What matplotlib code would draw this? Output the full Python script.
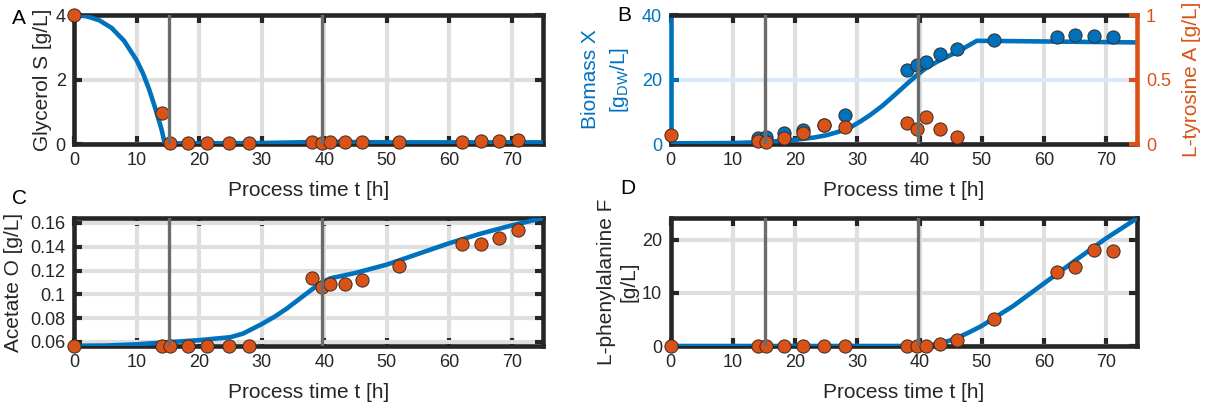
import matplotlib.pyplot as plt

plt.rcParams['font.family'] = ['Liberation Sans', 'DejaVu Sans']
plt.rcParams['mathtext.fontset'] = 'custom'
plt.rcParams['mathtext.rm'] = 'Liberation Sans'
plt.rcParams['mathtext.it'] = 'Liberation Sans:italic'

BLUE = '#0072BD'
ORANGE = '#D95319'
DARK = '#262626'
GRID = '#DFDFDF'
PHASE = '#6B6B6B'
NAN = float('nan')

# measurement times [h]
t_meas = [0, 14.0, 15.3, 18.3, 21.3, 24.7, 28.0, 38.0, 39.6, 41.0, 43.3,
          46.0, 52.0, 62.0, 65.0, 68.0, 71.0]
glycerol_meas = [4.0, 0.95, 0.02, 0.03, 0.03, 0.04, 0.04, 0.05, 0.04, 0.05,
                 0.05, 0.05, 0.05, 0.07, 0.08, 0.1, 0.12]
biomass_meas = [NAN, 1.8, 2.1, 3.5, 4.3, 5.8, 9.0, 22.9, 24.5, 25.5, 27.9,
                29.4, 32.2, 33.3, 33.8, 33.5, 33.1]
tyrosine_meas = [0.07, 0.026, 0.018, 0.049, 0.088, 0.147, 0.134, 0.165,
                 0.114, 0.207, 0.116, 0.057]
acetate_meas = [0.0566, 0.0566, 0.0566, 0.0566, 0.0566, 0.0566, 0.0566,
                0.1137, 0.1066, 0.1085, 0.1085, 0.1117, 0.1236, 0.142,
                0.1426, 0.147, 0.154]
phe_meas = [0, 0, 0, 0, 0, 0, 0, 0, 0, 0, 0.44, 1.07, 5.06, 13.85, 14.86,
            18.0, 17.8]

# model simulations
t_glyc = [0, 2, 4, 6, 8, 10, 11, 12, 13, 14, 14.5, 20, 30, 38, 40, 45, 50,
          60, 75]
glycerol_sim = [4.0, 3.96, 3.84, 3.6, 3.2, 2.6, 2.2, 1.7, 1.1, 0.45, 0.02,
                0.02, 0.03, 0.06, 0.07, 0.06, 0.05, 0.05, 0.05]
t_bio = [0, 10, 15, 20, 23, 25, 27, 29, 30.5, 32, 34, 36, 38, 39.6, 41, 43,
         45, 47, 49.2, 55, 65, 75]
biomass_sim = [0.2, 0.3, 0.6, 1.3, 2.0, 2.7, 3.8, 5.3, 7.0, 8.9, 11.8, 15.2,
               18.7, 21.4, 23.5, 25.7, 27.6, 29.6, 32.0, 31.9, 31.7, 31.5]
t_ace = [0, 5, 10, 15, 20, 25, 27, 30, 32, 34, 36, 38, 39.6, 41, 45, 50, 55,
         60, 65, 70, 75]
acetate_sim = [0.0568, 0.057, 0.058, 0.0598, 0.0615, 0.064, 0.067, 0.075,
               0.081, 0.088, 0.096, 0.104, 0.110, 0.1135, 0.118, 0.125,
               0.134, 0.143, 0.151, 0.158, 0.1642]
t_phe = [0, 40, 42, 44, 46, 48, 50, 52, 55, 60, 65, 70, 75]
phe_sim = [0, 0, 0.2, 0.7, 1.5, 2.6, 3.8, 5.3, 7.5, 11.8, 16.1, 20.3, 24.1]

# feed phase switches [h]
phase_times = [15.2, 39.7]

xticks = [0, 10, 20, 30, 40, 50, 60, 70]

fig = plt.figure(figsize=(12.06, 4.09), dpi=100)
axA = fig.add_axes([0.0614, 0.6479, 0.3889, 0.3154])
axB = fig.add_axes([0.5560, 0.6479, 0.3872, 0.3154])
axC = fig.add_axes([0.0614, 0.1540, 0.3889, 0.3130])
axD = fig.add_axes([0.5560, 0.1540, 0.3872, 0.3130])


def style(ax, ygrid=True):
    ax.set_xlim(0, 75)
    ax.set_xticks(xticks)
    ax.tick_params(direction='in', length=5.5, width=3, color=DARK,
                   labelcolor=DARK, labelsize=13, pad=6,
                   top=True, right=True)
    for s in ax.spines.values():
        s.set_linewidth(3.3)
        s.set_color(DARK)
    ax.grid(True, axis='x', color=GRID, linewidth=3)
    if ygrid:
        ax.grid(True, axis='y', color=GRID, linewidth=3)
    ax.set_axisbelow(True)
    ax.set_xlabel('Process time t [h]', fontsize=15, color=DARK)
    ax.xaxis.set_label_coords(0.5, -0.36)
    ax.xaxis.label.set_va('center')


def phases(ax):
    for tp in phase_times:
        ax.axvline(tp, color=PHASE, linewidth=2.4, zorder=10)


def dots(ax, x, y, color):
    ax.plot(x, y, 'o', markersize=9.5, markerfacecolor=color,
            markeredgecolor='#3a2a20', markeredgewidth=0.7,
            clip_on=False, zorder=5)


def ylab(ax, text, x, color=DARK, spacing=1.2):
    ax.set_ylabel(text, fontsize=15, color=color, multialignment='center',
                  linespacing=spacing)
    ax.yaxis.set_label_coords(x, 0.5)
    ax.yaxis.label.set_va('center')


# A: glycerol
style(axA)
axA.plot(t_glyc, glycerol_sim, color=BLUE, linewidth=3.3, zorder=3)
dots(axA, t_meas, glycerol_meas, ORANGE)
phases(axA)
axA.set_ylim(0, 4)
axA.set_yticks([0, 2, 4])
ylab(axA, 'Glycerol S [g/L]', -0.068)

# B: biomass and L-tyrosine
style(axB, ygrid=False)
axB.grid(True, axis='y', color='#DCE9F4', linewidth=3)
axB.plot(t_bio, biomass_sim, color=BLUE, linewidth=3.3, zorder=3)
dots(axB, t_meas, biomass_meas, BLUE)
axB.set_ylim(0, 40)
axB.set_yticks([0, 20, 40])
axB.tick_params(axis='y', colors=BLUE, right=False)
axB.spines['left'].set_color(BLUE)
axB.spines['right'].set_visible(False)
ylab(axB, 'Biomass X\n[g$_{\\mathrm{DW}}$/L]', -0.138, BLUE, 1.45)
axB2 = axB.twinx()
axB2.set_ylim(0, 1)
axB2.set_yticks([0, 0.5, 1])
axB2.set_yticklabels(['0', '0.5', '1'])
axB2.tick_params(axis='y', direction='in', length=5.5, width=3,
                 colors=ORANGE, labelsize=13, pad=6)
for name, s in axB2.spines.items():
    s.set_visible(name == 'right')
axB2.spines['right'].set_color(ORANGE)
axB2.spines['right'].set_linewidth(3.3)
dots(axB2, t_meas[:len(tyrosine_meas)], tyrosine_meas, ORANGE)
phases(axB2)
axB2.set_ylabel('L-tyrosine A [g/L]', fontsize=15, color=ORANGE)
axB2.yaxis.set_label_coords(1.115, 0.5)
axB2.yaxis.label.set_va('center')

# C: acetate
style(axC)
axC.plot(t_ace, acetate_sim, color=BLUE, linewidth=3.3, zorder=3)
dots(axC, t_meas, acetate_meas, ORANGE)
phases(axC)
axC.set_ylim(0.0566, 0.1642)
axC.set_yticks([0.06, 0.08, 0.1, 0.12, 0.14, 0.16])
axC.set_yticklabels(['0.06', '0.08', '0.1', '0.12', '0.14', '0.16'])
ylab(axC, 'Acetate O [g/L]', -0.13)

# D: L-phenylalanine
style(axD)
axD.plot(t_phe, phe_sim, color=BLUE, linewidth=3.3, zorder=3)
dots(axD, t_meas, phe_meas, ORANGE)
phases(axD)
axD.set_ylim(0, 24.1)
axD.set_yticks([0, 10, 20])
ylab(axD, 'L-phenylalanine F\n[g/L]', -0.113)

for letter, x, y in [('A', 0.010, 0.955), ('B', 0.512, 0.962),
                     ('C', 0.010, 0.515), ('D', 0.514, 0.54)]:
    fig.text(x, y, letter, fontsize=15, color='black', va='center')

fig.savefig('out.png', dpi=100)
